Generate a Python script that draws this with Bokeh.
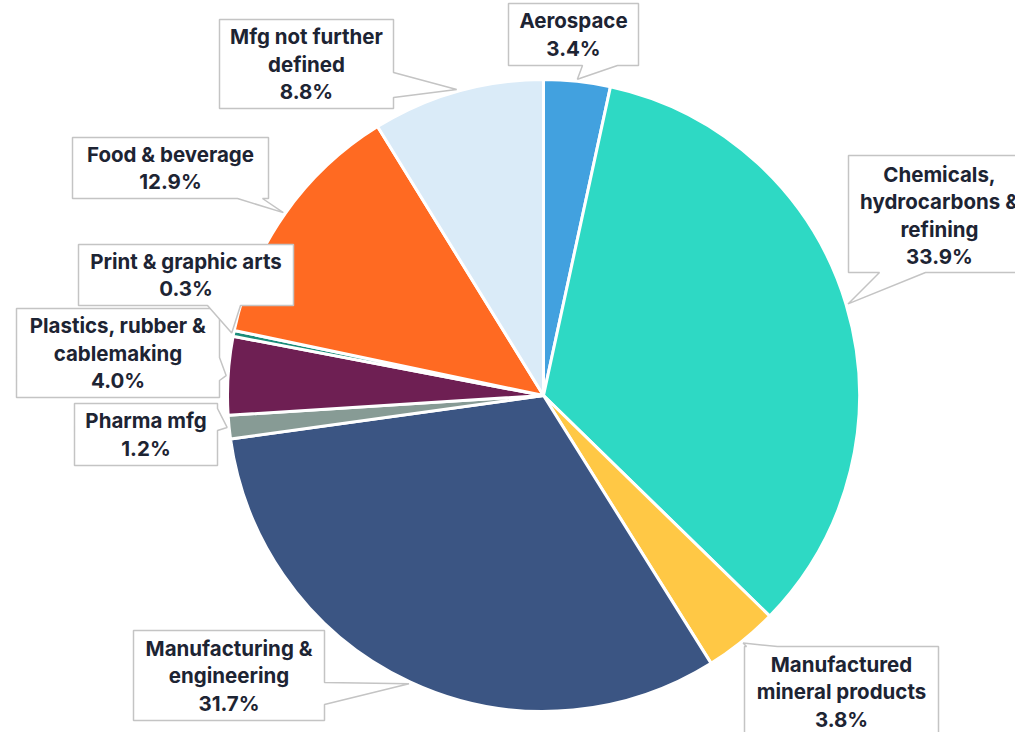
import numpy as np
from bokeh.plotting import figure
from bokeh.models import Range1d, ColumnDataSource
from bokeh.core.properties import value
from bokeh.embed import file_html
from bokeh.resources import INLINE

# ---- data ----
categories = ["Aerospace", "Chemicals, hydrocarbons & refining", "Manufactured mineral products",
              "Manufacturing & engineering", "Pharma mfg", "Plastics, rubber & cablemaking",
              "Print & graphic arts", "Food & beverage", "Mfg not further defined"]
label_lines = ["Aerospace", "Chemicals,\nhydrocarbons &\nrefining", "Manufactured\nmineral products",
               "Manufacturing &\nengineering", "Pharma mfg", "Plastics, rubber &\ncablemaking",
               "Print & graphic arts", "Food & beverage", "Mfg not further\ndefined"]
shares = [3.4, 33.9, 3.8, 31.7, 1.2, 4.0, 0.3, 12.9, 8.8]
colors = ["#42A1DF", "#2ED9C4", "#FFC845", "#3B5583", "#879B95", "#6E1F53", "#1A8C7A", "#FF6A22", "#DAEBF8"]

# ---- layout (screen px of the page) ----
CX, CY, R = 543, 395, 316
# box: (x0, y0, x1, y1), pointer side, pointer base (a, b)
boxes = [
    ((508, 3, 638, 65), "bottom", (582, 617)),
    ((848, 155, 1030, 272), "bottom", (879, 925)),
    ((744, 646, 938, 760), "top", (746, 777)),
    ((133, 630, 324, 720), "right", (682, 704)),
    ((74, 403, 217, 465), "right", (408, 430)),
    ((16, 308, 219, 397), "right", (357, 380)),
    ((78, 244, 293, 305), "bottom", (207, 240)),
    ((72, 137, 268, 198), "bottom", (237, 262)),
    ((219, 19, 393, 108), "right", (72, 97)),
]

frac = np.array(shares) / np.sum(shares)
cum = np.concatenate([[0], np.cumsum(frac)])
start = np.pi / 2 - 2 * np.pi * cum[:-1]
end = np.pi / 2 - 2 * np.pi * cum[1:]
mid = 2 * np.pi * (cum[:-1] + cum[1:]) / 2

W, H = 1015, 732
p = figure(width=W, height=H, output_backend="svg", toolbar_location=None,
           x_range=Range1d(0, W), y_range=Range1d(-H, 0),
           min_border=0, outline_line_color=None, background_fill_color="white")
p.axis.visible = False
p.grid.visible = False

src = ColumnDataSource(dict(start=start, end=end, color=colors, cat=categories))
p.wedge(x=CX, y=-CY, radius=R, start_angle="start", end_angle="end", direction="clock",
        fill_color="color", line_color="white", line_width=3, source=src)

xs, ys, tx, ty, texts = [], [], [], [], []
for i, ((x0, y0, x1, y1), side, (a, b)) in enumerate(boxes):
    tipx = CX + (R + 2) * np.sin(mid[i])
    tipy = CY - (R + 2) * np.cos(mid[i])
    pts = [(x0, y0)]
    if side == "top":
        pts += [(a, y0), (tipx, tipy), (b, y0)]
    pts += [(x1, y0)]
    if side == "right":
        pts += [(x1, a), (tipx, tipy), (x1, b)]
    pts += [(x1, y1)]
    if side == "bottom":
        pts += [(b, y1), (tipx, tipy), (a, y1)]
    pts += [(x0, y1)]
    xs.append([q[0] for q in pts])
    ys.append([-q[1] for q in pts])
    tx.append((x0 + x1) / 2)
    ty.append(-(y0 + y1) / 2)
    texts.append(label_lines[i] + "\n" + f"{shares[i]:.1f}%")

# centre for the box that runs off the bottom edge
ty[2] = -691
tx[1] = 939
ty[1] = -215

p.patches(xs=xs, ys=ys, fill_color="white", line_color="#C4C4C4", line_width=1.5)
p.text(x=tx, y=ty, text=texts, text_align="center", text_baseline="middle",
       text_font=value("Inter"), text_font_style="bold", text_font_size="20.5px",
       text_color="#1D2433", text_line_height=1.1)

open("out.html", "w").write(file_html(p, INLINE))
